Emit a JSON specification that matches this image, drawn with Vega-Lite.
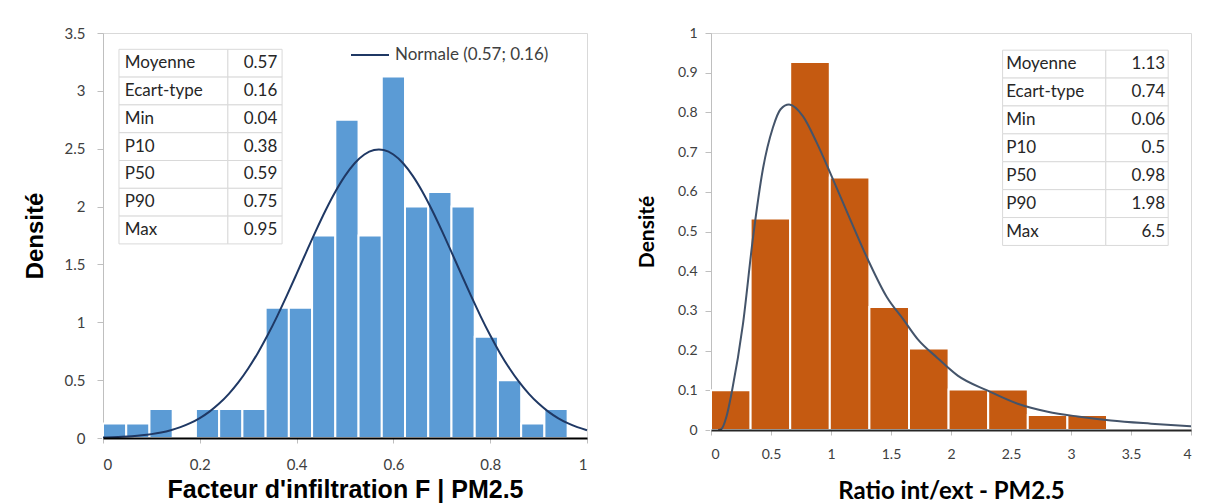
{
  "$schema": "https://vega.github.io/schema/vega-lite/v6.json",
  "background": "white",
  "padding": {"left": 22, "top": 25, "right": 0, "bottom": 0},
  "spacing": 43,
  "config": {
    "font": "Lato",
    "view": {"stroke": "#d9d9d9", "strokeWidth": 1},
    "axis": {"grid": false, "labelFont": "Lato", "labelColor": "#404040", "domainColor": "#bfbfbf", "tickColor": "#bfbfbf", "titleColor": "#000000", "labelOverlap": false}
  },
  "datasets": {
    "binsF": [
      {"x0": 0, "x1": 0.048, "density": 0.125},
      {"x0": 0.048, "x1": 0.096, "density": 0.125},
      {"x0": 0.096, "x1": 0.144, "density": 0.25},
      {"x0": 0.192, "x1": 0.24, "density": 0.25},
      {"x0": 0.24, "x1": 0.288, "density": 0.25},
      {"x0": 0.288, "x1": 0.336, "density": 0.25},
      {"x0": 0.336, "x1": 0.384, "density": 1.125},
      {"x0": 0.384, "x1": 0.432, "density": 1.125},
      {"x0": 0.432, "x1": 0.48, "density": 1.75},
      {"x0": 0.48, "x1": 0.528, "density": 2.75},
      {"x0": 0.528, "x1": 0.576, "density": 1.75},
      {"x0": 0.576, "x1": 0.624, "density": 3.125},
      {"x0": 0.624, "x1": 0.672, "density": 2.0},
      {"x0": 0.672, "x1": 0.72, "density": 2.125},
      {"x0": 0.72, "x1": 0.768, "density": 2.0},
      {"x0": 0.768, "x1": 0.816, "density": 0.875},
      {"x0": 0.816, "x1": 0.864, "density": 0.5},
      {"x0": 0.864, "x1": 0.912, "density": 0.125},
      {"x0": 0.912, "x1": 0.96, "density": 0.25}
    ],
    "curveF": [
      {"x": 0, "d": 0.0044}, {"x": 0.02, "d": 0.0068}, {"x": 0.04, "d": 0.0103}, {"x": 0.06, "d": 0.0155},
      {"x": 0.08, "d": 0.0229}, {"x": 0.1, "d": 0.0334}, {"x": 0.12, "d": 0.0478}, {"x": 0.14, "d": 0.0674},
      {"x": 0.16, "d": 0.0935}, {"x": 0.18, "d": 0.1278}, {"x": 0.2, "d": 0.172}, {"x": 0.22, "d": 0.2279},
      {"x": 0.24, "d": 0.2972}, {"x": 0.26, "d": 0.3815}, {"x": 0.28, "d": 0.4823}, {"x": 0.3, "d": 0.6004},
      {"x": 0.32, "d": 0.7356}, {"x": 0.34, "d": 0.8874}, {"x": 0.36, "d": 1.0537}, {"x": 0.38, "d": 1.232},
      {"x": 0.4, "d": 1.418}, {"x": 0.42, "d": 1.6068}, {"x": 0.44, "d": 1.7923}, {"x": 0.46, "d": 1.9685},
      {"x": 0.48, "d": 2.1286}, {"x": 0.5, "d": 2.2658}, {"x": 0.52, "d": 2.3745}, {"x": 0.54, "d": 2.45},
      {"x": 0.56, "d": 2.4885}, {"x": 0.57, "d": 2.4934}, {"x": 0.58, "d": 2.4885}, {"x": 0.6, "d": 2.45},
      {"x": 0.62, "d": 2.3745}, {"x": 0.64, "d": 2.2658}, {"x": 0.66, "d": 2.1286}, {"x": 0.68, "d": 1.9685},
      {"x": 0.7, "d": 1.7923}, {"x": 0.72, "d": 1.6068}, {"x": 0.74, "d": 1.418}, {"x": 0.76, "d": 1.232},
      {"x": 0.78, "d": 1.0537}, {"x": 0.8, "d": 0.8874}, {"x": 0.82, "d": 0.7356}, {"x": 0.84, "d": 0.6004},
      {"x": 0.86, "d": 0.4823}, {"x": 0.88, "d": 0.3815}, {"x": 0.9, "d": 0.2972}, {"x": 0.92, "d": 0.2279},
      {"x": 0.94, "d": 0.172}, {"x": 0.96, "d": 0.1278}, {"x": 0.98, "d": 0.0935}, {"x": 1.0, "d": 0.0674}
    ],
    "tableF": [
      {"stat": "Moyenne", "value": "0.57"},
      {"stat": "Ecart-type", "value": "0.16"},
      {"stat": "Min", "value": "0.04"},
      {"stat": "P10", "value": "0.38"},
      {"stat": "P50", "value": "0.59"},
      {"stat": "P90", "value": "0.75"},
      {"stat": "Max", "value": "0.95"}
    ],
    "binsR": [
      {"x0": 0, "x1": 0.33, "density": 0.1},
      {"x0": 0.33, "x1": 0.66, "density": 0.533},
      {"x0": 0.66, "x1": 0.99, "density": 0.927},
      {"x0": 0.99, "x1": 1.32, "density": 0.636},
      {"x0": 1.32, "x1": 1.65, "density": 0.31},
      {"x0": 1.65, "x1": 1.98, "density": 0.205},
      {"x0": 1.98, "x1": 2.31, "density": 0.102},
      {"x0": 2.31, "x1": 2.64, "density": 0.102},
      {"x0": 2.64, "x1": 2.97, "density": 0.038},
      {"x0": 2.97, "x1": 3.3, "density": 0.038}
    ],
    "curveR": [
      {"x": 0.06, "d": 0}, {"x": 0.085, "d": 0.002}, {"x": 0.13, "d": 0.035}, {"x": 0.176, "d": 0.1},
      {"x": 0.265, "d": 0.264}, {"x": 0.349, "d": 0.482}, {"x": 0.433, "d": 0.658}, {"x": 0.516, "d": 0.762},
      {"x": 0.58, "d": 0.808}, {"x": 0.65, "d": 0.82}, {"x": 0.767, "d": 0.79}, {"x": 0.879, "d": 0.725},
      {"x": 1.004, "d": 0.64}, {"x": 1.158, "d": 0.532}, {"x": 1.311, "d": 0.427}, {"x": 1.465, "d": 0.335},
      {"x": 1.604, "d": 0.278}, {"x": 1.722, "d": 0.229}, {"x": 1.889, "d": 0.181}, {"x": 2.056, "d": 0.137},
      {"x": 2.306, "d": 0.099}, {"x": 2.556, "d": 0.066}, {"x": 2.806, "d": 0.046}, {"x": 3.056, "d": 0.034},
      {"x": 3.333, "d": 0.024}, {"x": 3.667, "d": 0.016}, {"x": 4.0, "d": 0.0093}
    ],
    "tableR": [
      {"stat": "Moyenne", "value": "1.13"},
      {"stat": "Ecart-type", "value": "0.74"},
      {"stat": "Min", "value": "0.06"},
      {"stat": "P10", "value": "0.5"},
      {"stat": "P50", "value": "0.98"},
      {"stat": "P90", "value": "1.98"},
      {"stat": "Max", "value": "6.5"}
    ]
  },
  "hconcat": [
    {
      "width": 484,
      "height": 405,
      "resolve": {"scale": {"y": "independent"}},
      "layer": [
        {
          "layer": [
            {
              "data": {"name": "binsF"},
              "mark": {"type": "rect", "color": "#5B9BD5", "stroke": "white", "strokeWidth": 2},
              "encoding": {
                "x": {"field": "x0", "type": "quantitative", "scale": {"domain": [0, 1], "nice": false},
                  "axis": {"title": "Facteur d'infiltration F | PM2.5", "values": [0, 0.2, 0.4, 0.6, 0.8, 1], "format": "~g",
                    "labelOverlap": false, "zindex": 1,
                    "labelFontSize": 15, "labelPadding": 14, "tickSize": 5, "domainColor": "#000000", "domainWidth": 2,
                    "titleFont": "Liberation Sans", "titleFontWeight": "bold", "titleFontSize": 25, "titlePadding": 5}},
                "x2": {"field": "x1"},
                "y": {"field": "density", "type": "quantitative", "scale": {"domain": [0, 3.5], "nice": false},
                  "axis": {"title": "Densité", "values": [0, 0.5, 1, 1.5, 2, 2.5, 3, 3.5], "format": "~g",
                    "labelOverlap": false,
                    "labelFontSize": 15, "labelPadding": 12, "tickSize": 6,
                    "titleFont": "Liberation Sans", "titleFontWeight": "bold", "titleFontSize": 24, "titlePadding": 17}},
                "y2": {"datum": 0}
              }
            },
            {
              "data": {"name": "curveF"},
              "mark": {"type": "line", "strokeWidth": 2, "interpolate": "monotone"},
              "encoding": {
                "x": {"field": "x", "type": "quantitative", "title": "Facteur d'infiltration F | PM2.5"},
                "y": {"field": "d", "type": "quantitative", "title": "Densité"},
                "color": {"datum": "Normale (0.57; 0.16)", "type": "nominal", "scale": {"range": ["#1F3864"]},
                  "legend": {"title": null, "orient": "none", "legendX": 247, "legendY": 2, "symbolType": "stroke",
                    "symbolSize": 1444, "symbolStrokeWidth": 2, "labelFontSize": 17, "labelFont": "Lato",
                    "labelColor": "#404040", "padding": 0, "labelOffset": 5, "labelLimit": 400}}
              }
            }
          ]
        },
        {
          "data": {"name": "tableF"},
          "encoding": {
            "y": {"field": "stat", "type": "nominal", "sort": null,
              "scale": {"domain": ["Moyenne", "Ecart-type", "Min", "P10", "P50", "P90", "Max", "_a", "_b", "_c", "_d", "_e", "_f"], "paddingInner": 0, "paddingOuter": 0.785, "align": 0.374},
              "axis": null}
          },
          "layer": [
            {"mark": {"type": "rect", "fill": "white", "stroke": "#d9d9d9", "strokeWidth": 1},
             "encoding": {"x": {"datum": 0.033, "type": "quantitative"}, "x2": {"datum": 0.258}}},
            {"mark": {"type": "rect", "fill": "white", "stroke": "#d9d9d9", "strokeWidth": 1},
             "encoding": {"x": {"datum": 0.258, "type": "quantitative"}, "x2": {"datum": 0.37}}},
            {"mark": {"type": "text", "align": "left", "baseline": "middle", "fontSize": 17, "font": "Lato", "color": "#262626"},
             "encoding": {"x": {"datum": 0.045, "type": "quantitative"}, "text": {"field": "stat"}}},
            {"mark": {"type": "text", "align": "right", "baseline": "middle", "fontSize": 17, "font": "Lato", "color": "#262626"},
             "encoding": {"x": {"datum": 0.36, "type": "quantitative"}, "text": {"field": "value"}}}
          ]
        }
      ]
    },
    {
      "width": 480,
      "height": 397,
      "resolve": {"scale": {"y": "independent"}},
      "layer": [
        {
          "layer": [
            {
              "data": {"name": "binsR"},
              "mark": {"type": "rect", "color": "#C55A11", "stroke": "white", "strokeWidth": 2},
              "encoding": {
                "x": {"field": "x0", "type": "quantitative", "scale": {"domain": [0, 4], "nice": false},
                  "axis": {"title": "Ratio int/ext - PM2.5", "values": [0, 0.5, 1, 1.5, 2, 2.5, 3, 3.5, 4], "format": "~g",
                    "labelOverlap": false, "zindex": 1,
                    "labelFontSize": 14, "labelPadding": 12, "tickSize": 5, "domainColor": "#262626", "domainWidth": 2,
                    "titleFont": "Lato", "titleFontWeight": "bold", "titleFontSize": 24, "titlePadding": 18}},
                "x2": {"field": "x1"},
                "y": {"field": "density", "type": "quantitative", "scale": {"domain": [0, 1], "nice": false},
                  "axis": {"title": "Densité", "values": [0, 0.1, 0.2, 0.3, 0.4, 0.5, 0.6, 0.7, 0.8, 0.9, 1], "format": "~g",
                    "labelOverlap": false, "tickCount": 11,
                    "labelFontSize": 14, "labelPadding": 8, "tickSize": 6,
                    "titleFont": "Lato", "titleFontWeight": "bold", "titleFontSize": 21, "titlePadding": 20}},
                "y2": {"datum": 0}
              }
            },
            {
              "data": {"name": "curveR"},
              "mark": {"type": "line", "strokeWidth": 2, "interpolate": "monotone", "color": "#44546A"},
              "encoding": {
                "x": {"field": "x", "type": "quantitative", "title": "Ratio int/ext - PM2.5"},
                "y": {"field": "d", "type": "quantitative", "title": "Densité"}
              }
            }
          ]
        },
        {
          "data": {"name": "tableR"},
          "encoding": {
            "y": {"field": "stat", "type": "nominal", "sort": null,
              "scale": {"domain": ["Moyenne", "Ecart-type", "Min", "P10", "P50", "P90", "Max", "_a", "_b", "_c", "_d", "_e", "_f"], "paddingInner": 0, "paddingOuter": 0.615, "align": 0.5},
              "axis": null}
          },
          "layer": [
            {"mark": {"type": "rect", "fill": "white", "stroke": "#d9d9d9", "strokeWidth": 1},
             "encoding": {"x": {"datum": 2.43, "type": "quantitative"}, "x2": {"datum": 3.29}}},
            {"mark": {"type": "rect", "fill": "white", "stroke": "#d9d9d9", "strokeWidth": 1},
             "encoding": {"x": {"datum": 3.29, "type": "quantitative"}, "x2": {"datum": 3.81}}},
            {"mark": {"type": "text", "align": "left", "baseline": "middle", "fontSize": 17, "font": "Lato", "color": "#262626"},
             "encoding": {"x": {"datum": 2.46, "type": "quantitative"}, "text": {"field": "stat"}}},
            {"mark": {"type": "text", "align": "right", "baseline": "middle", "fontSize": 17, "font": "Lato", "color": "#262626"},
             "encoding": {"x": {"datum": 3.785, "type": "quantitative"}, "text": {"field": "value"}}}
          ]
        }
      ]
    }
  ]
}
